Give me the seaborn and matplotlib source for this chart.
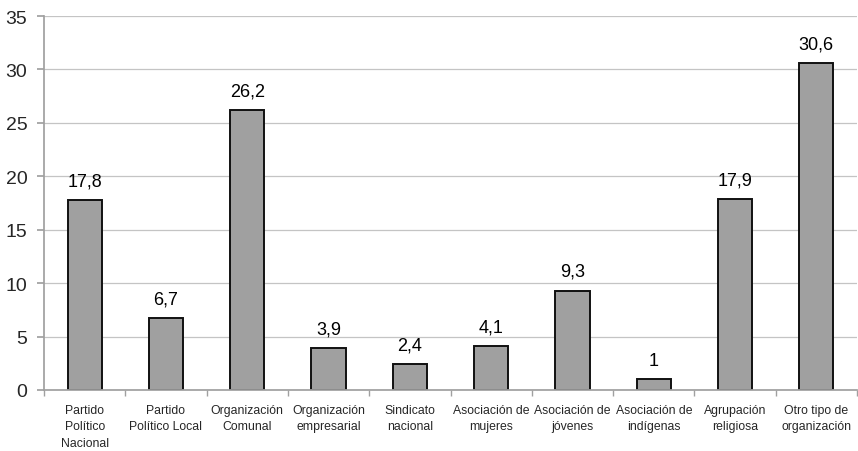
import matplotlib
matplotlib.use("Agg")
import matplotlib.pyplot as plt
import seaborn as sns
import pandas as pd
import numpy as np

categorias = [
    "Partido\nPolítico\nNacional",
    "Partido\nPolítico Local",
    "Organización\nComunal",
    "Organización\nempresarial",
    "Sindicato\nnacional",
    "Asociación de\nmujeres",
    "Asociación de\njóvenes",
    "Asociación de\nindígenas",
    "Agrupación\nreligiosa",
    "Otro tipo de\norganización",
]
porcentajes = [17.8, 6.7, 26.2, 3.9, 2.4, 4.1, 9.3, 1, 17.9, 30.6]
etiquetas = ["17,8", "6,7", "26,2", "3,9", "2,4", "4,1", "9,3", "1", "17,9", "30,6"]
yticks = [0, 5, 10, 15, 20, 25, 30, 35]

sns.set_theme(style="white")
plt.rcParams["font.family"] = ["Liberation Sans", "DejaVu Sans"]

df = pd.DataFrame({"cat": categorias, "val": porcentajes})

fig = plt.figure(figsize=(8.58, 4.52), dpi=100)
ax = fig.add_axes([44 / 858, 1 - 391 / 452, 813 / 858, (391 - 17) / 452])

sns.barplot(data=df, x="cat", y="val", ax=ax, color="#a0a0a0",
            edgecolor="#111111", linewidth=1.4, width=0.42, saturation=1)

for i, (v, t) in enumerate(zip(porcentajes, etiquetas)):
    ax.text(i, v + 1.0, t, ha="center", va="bottom", fontsize=13, color="black")

ax.set_ylim(0, 35)
ax.set_xlim(-0.5, len(categorias) - 0.5)
ax.set_yticks(yticks)
ax.set_yticklabels([str(y) for y in yticks], fontsize=14)
ax.yaxis.grid(True, color="#c4c4c4", linewidth=0.9)
ax.set_axisbelow(True)
ax.set_xlabel("")
ax.set_ylabel("")

ax.set_xticks(range(len(categorias)))
ax.set_xticklabels(categorias, fontsize=8.8, linespacing=1.5)
ax.set_xticks(np.arange(-0.5, len(categorias), 1.0), minor=True)
ax.tick_params(axis="x", which="major", length=0, pad=10)
ax.tick_params(axis="x", which="minor", length=4, color="#a0a0a0", bottom=True)
ax.tick_params(axis="y", length=5, color="#a0a0a0", left=True, pad=7)

for s in ["top", "right"]:
    ax.spines[s].set_visible(False)
ax.spines["left"].set_color("#a0a0a0")
ax.spines["bottom"].set_color("#a0a0a0")

fig.savefig("out.png", dpi=100)
